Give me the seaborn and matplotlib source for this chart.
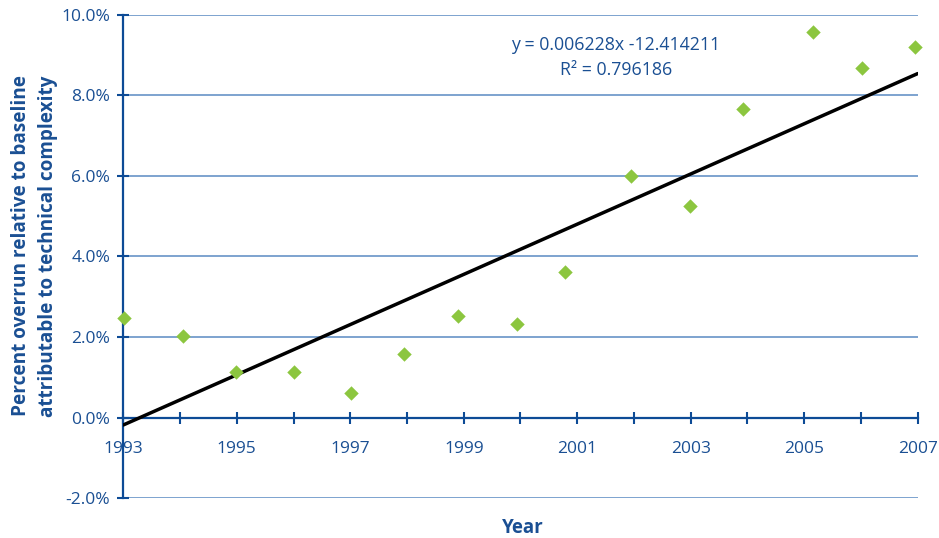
import matplotlib
matplotlib.use("Agg")
import matplotlib.pyplot as plt
import seaborn as sns
from matplotlib.ticker import FixedLocator, FuncFormatter

# Observed overrun by year (percent of baseline)
years = [1993.02, 1994.05, 1994.99, 1996.0, 1997.01, 1997.95, 1998.9, 1999.94,
         2000.78, 2001.95, 2002.99, 2003.92, 2005.16, 2006.01, 2006.95]
overrun_pct = [2.48, 2.03, 1.14, 1.14, 0.62, 1.58, 2.52, 2.33,
               3.61, 6.00, 5.25, 7.66, 9.58, 8.68, 9.21]

# Linear trend (fraction per year) and its goodness of fit
slope = 0.006228
intercept = -12.414211
r_squared = 0.796186

year_range = [1993, 2007]
labelled_years = [1993, 1995, 1997, 1999, 2001, 2003, 2005, 2007]
other_years = [1994, 1996, 1998, 2000, 2002, 2004, 2006]
pct_ticks = [-2, 0, 2, 4, 6, 8, 10]

dark_blue = "#0d4b96"
text_blue = "#1a4f93"
grid_blue = "#5a8ac2"
green = "#8cc63f"

sns.set_theme(style="white")
plt.rcParams["font.family"] = ["Open Sans", "DejaVu Sans"]

fig = plt.figure(figsize=(9.39, 5.38), dpi=100)
ax = fig.add_axes([0.1313, 0.0738, 0.8460, 0.8989])

trend_y = [(slope * x + intercept) * 100 for x in year_range]
sns.lineplot(x=year_range, y=trend_y, color="black", linewidth=2.5, ax=ax, zorder=3)
sns.scatterplot(x=years, y=overrun_pct, marker="D", s=54, color=green,
                linewidth=0, ax=ax, zorder=4, clip_on=False)

ax.set_xlim(year_range[0], year_range[1])
ax.set_ylim(pct_ticks[0], pct_ticks[-1])

ax.yaxis.set_major_locator(FixedLocator(pct_ticks))
ax.yaxis.set_major_formatter(FuncFormatter(lambda v, _: f"{v:.1f}%"))
ax.xaxis.set_major_locator(FixedLocator(labelled_years))
ax.xaxis.set_minor_locator(FixedLocator(other_years))
ax.xaxis.set_major_formatter(FuncFormatter(lambda v, _: f"{int(round(v))}"))

ax.grid(axis="y", color=grid_blue, linewidth=1.1)
ax.grid(axis="x", visible=False)
ax.set_axisbelow(True)

for side in ("top", "right"):
    ax.spines[side].set_visible(False)
ax.spines["bottom"].set_position(("data", 0))
for side in ("left", "bottom"):
    ax.spines[side].set_color(dark_blue)
    ax.spines[side].set_linewidth(1.6)
    ax.spines[side].set_zorder(2)

ax.tick_params(axis="x", which="both", direction="inout", length=9, width=1.5,
               color=dark_blue, labelcolor=text_blue, labelsize=12.5, pad=12,
               bottom=True)
ax.tick_params(axis="y", which="major", direction="inout", length=9, width=1.5,
               color=dark_blue, labelcolor=text_blue, labelsize=12.5, pad=5,
               left=True)

ax.set_xlabel("")
ax.set_ylabel("")

fig.text(0.0365, 0.543,
         "Percent overrun relative to baseline\nattributable to technical complexity",
         rotation=90, ha="center", va="center", multialignment="center",
         fontweight="bold", fontsize=13.7, color=text_blue, linespacing=1.5)
fig.text(0.557, 0.0186, "Year", ha="center", va="center",
         fontweight="bold", fontsize=13.5, color=text_blue)

ax.text(2001.68, 9.24, f"y = {slope:.6f}x {intercept:.6f}",
        ha="center", va="center", fontsize=12.8, color=text_blue)
ax.text(2001.68, 8.62, f"R² = {r_squared:.6f}", ha="center", va="center",
        fontsize=12.8, color=text_blue)

fig.savefig("out.png", dpi=100)
